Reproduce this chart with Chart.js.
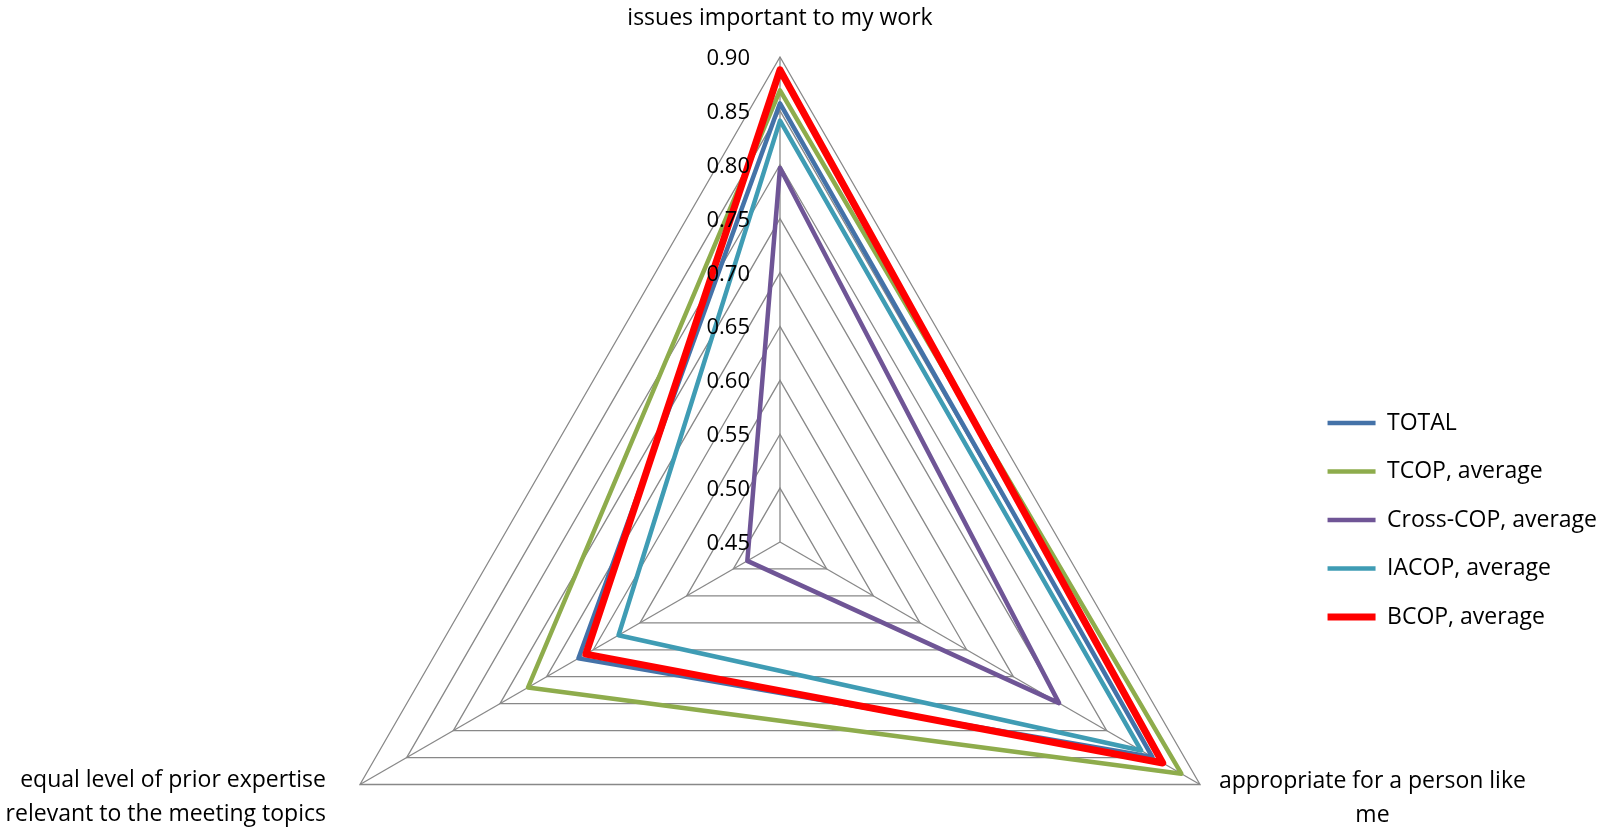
<!DOCTYPE html>
<html>
<head>
<meta charset="utf-8">
<title>Radar</title>
<script src="https://cdn.jsdelivr.net/npm/chart.js@4.4.1/dist/chart.umd.min.js"></script>
<style>
  html, body { margin: 0; padding: 0; background: #fff; overflow: hidden; }
  #wrap { position: relative; width: 1613px; height: 1040px; }
</style>
</head>
<body>
<div id="wrap"><canvas id="radar"></canvas></div>
<script>
// Achsen (im Uhrzeigersinn ab oben), mehrzeilig wie im Original
const categories = [
    ['issues important to my work'],
    ['appropriate for a person like', 'me'],
    ['equal level of prior expertise', 'relevant to the meeting topics']
];

// Werte je Reihe
const total = [0.857, 0.849, 0.666];
const tcop  = [0.869, 0.880, 0.720];
const cross = [0.797, 0.749, 0.485];
const iacop = [0.841, 0.837, 0.623];
const bcop  = [0.888, 0.860, 0.658];

const seriesNames = ['TOTAL', 'TCOP, average', 'Cross-COP, average', 'IACOP, average', 'BCOP, average'];

// Skala
const scaleMin = 0.45;
const scaleMax = 0.90;
const scaleStep = 0.05;

const FONT = '"Open Sans", "Liberation Sans", sans-serif';

// Beschriftungen der Achsen und der Skala selbst zeichnen (Excel-Stil)
const axisText = {
    id: 'axisText',
    afterDraw(chart) {
        const r = chart.scales.r;
        const ctx = chart.ctx;
        ctx.save();
        ctx.fillStyle = '#000';

        // Skalenwerte links neben der senkrechten Achse
        ctx.font = '22px ' + FONT;
        ctx.textAlign = 'right';
        ctx.textBaseline = 'alphabetic';
        r.ticks.forEach(t => {
            const d = r.getDistanceFromCenterForValue(t.value);
            ctx.fillText(t.value.toFixed(2), r.xCenter - 30, r.yCenter - d + 8);
        });

        // Achsentitel
        ctx.font = '23px ' + FONT;
        const lineH = 34;
        chart.data.labels.forEach((lines, i) => {
            const v = r.getPointPosition(i, r.drawingArea);
            const w = Math.max(...lines.map(l => ctx.measureText(l).width));
            let x, y0;
            if (i === 0) {
                ctx.textAlign = 'center';
                x = v.x;
                y0 = v.y - 32;
            } else if (v.x > r.xCenter) {
                ctx.textAlign = 'center';
                x = v.x + 19 + w / 2;
                y0 = v.y + 3;
            } else {
                ctx.textAlign = 'right';
                x = v.x - 34;
                y0 = v.y + 2;
            }
            lines.forEach((l, k) => ctx.fillText(l, x, y0 + k * lineH));
        });
        ctx.restore();
    }
};

const seriesData = [total, tcop, cross, iacop, bcop];
const colors = ['#4472A8', '#8EAC4C', '#6F5596', '#3F9CB4', '#FF0000'];
const widths = [4.5, 4.5, 4.5, 4.5, 7];

new Chart(document.getElementById('radar'), {
    type: 'radar',
    data: {
        labels: categories,
        datasets: seriesData.map((vals, i) => ({
            label: seriesNames[i],
            data: vals,
            borderColor: colors[i],
            backgroundColor: 'rgba(0,0,0,0)',
            borderWidth: widths[i],
            borderJoinStyle: 'round',
            borderCapStyle: 'round',
            pointRadius: 0,
            pointHoverRadius: 0,
            fill: false,
            order: seriesData.length - i
        }))
    },
    options: {
        responsive: true,
        maintainAspectRatio: false,
        animation: false,
        layout: { padding: { right: 6 } },
        scales: {
            r: {
                min: scaleMin,
                max: scaleMax,
                ticks: { stepSize: scaleStep, display: false },
                pointLabels: { display: false },
                grid: { color: '#888888', lineWidth: 1.3 },
                angleLines: { color: '#888888', lineWidth: 1.3 },
                afterFit: (scale) => {
                    // Lage und Größe wie im Original
                    scale.xCenter = 780;
                    scale.yCenter = 542;
                    scale.drawingArea = 485;
                }
            }
        },
        plugins: {
            tooltip: { enabled: false },
            legend: {
                position: 'right',
                align: 'center',
                labels: {
                    font: { family: FONT, size: 23 },
                    color: '#000',
                    usePointStyle: true,
                    pointStyle: 'line',
                    pointStyleWidth: 48,
                    padding: 25.5,
                    sort: (a, b) => a.datasetIndex - b.datasetIndex
                }
            }
        }
    },
    plugins: [axisText]
});
</script>
</body>
</html>
